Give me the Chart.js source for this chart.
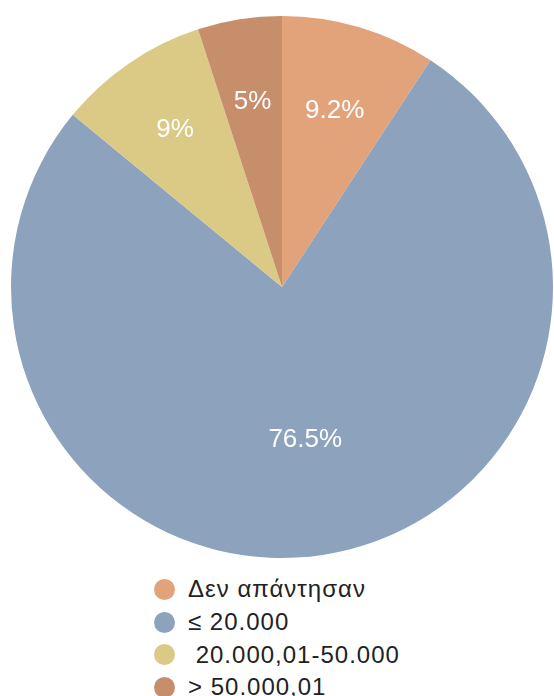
<!DOCTYPE html>
<html>
<head>
<meta charset="utf-8">
<script src="https://cdn.jsdelivr.net/npm/chart.js@4"></script>
<style>
    html, body { margin: 0; padding: 0; background: #fff; }
    body { width: 554px; height: 696px; overflow: hidden; font-family: "Liberation Sans", Arial, sans-serif; }
    #wrap { position: relative; width: 554px; height: 562px; }
    #legend { position: absolute; left: 154px; top: 573px; }
    .legendRow { display: flex; align-items: center; height: 32.7px; }
    .dot { width: 21px; height: 21px; border-radius: 50%; margin-right: 13px; }
    .lbl { font-size: 24px; letter-spacing: 1px; color: #222; white-space: pre; }
</style>
</head>
<body>
<div id="wrap"><canvas id="chart"></canvas></div>
<div id="legend"></div>

<script>
// slices, clockwise from 12 o'clock
const categories = ["Δεν απάντησαν", "≤ 20.000", " 20.000,01-50.000", "> 50.000,01"];
const percents = [9.2, 76.5, 9, 5];
const sliceColors = ["#E2A27A", "#8DA3BD", "#DBCA86", "#C78E6B"];

// draws the "x%" text inside each slice
const sliceLabels = {
    id: 'sliceLabels',
    afterDatasetsDraw(chart, args, opts) {
        const ctx = chart.ctx;
        const meta = chart.getDatasetMeta(0);
        ctx.save();
        ctx.fillStyle = '#fff';
        ctx.font = '26px "Liberation Sans", Arial, sans-serif';
        ctx.textAlign = 'center';
        ctx.textBaseline = 'middle';
        meta.data.forEach((arc, i) => {
            const mid = (arc.startAngle + arc.endAngle) / 2;
            const r = arc.outerRadius * opts.radii[i];
            ctx.fillText(percents[i] + '%', arc.x + Math.cos(mid) * r, arc.y + Math.sin(mid) * r);
        });
        ctx.restore();
    }
};

function createLegend() {
    const legend = document.getElementById("legend");
    for (let i = 0; i < categories.length; i++) {
        const row = document.createElement("div");
        row.setAttribute("class", "legendRow");

        const dot = document.createElement("div");
        dot.setAttribute("class", "dot");
        dot.style.background = sliceColors[i];

        const lbl = document.createElement("div");
        lbl.setAttribute("class", "lbl");
        lbl.textContent = categories[i];

        row.append(dot, lbl);
        legend.append(row);
    }
}

function displayPie() {
    const ctx = document.getElementById('chart');

    new Chart(ctx, {
        type: 'pie',
        data: {
            labels: categories,
            datasets: [{
                data: percents,
                backgroundColor: sliceColors,
                borderWidth: 0
            }]
        },
        options: {
            responsive: true,
            maintainAspectRatio: false,
            animation: false,
            layout: { padding: { left: 11, right: 1, top: 16, bottom: 4 } },
            plugins: {
                legend: { display: false },
                tooltip: { enabled: false },
                sliceLabels: { radii: [0.68, 0.57, 0.70, 0.69] }
            }
        },
        plugins: [sliceLabels]
    });
}

createLegend();
displayPie();
</script>
</body>
</html>
